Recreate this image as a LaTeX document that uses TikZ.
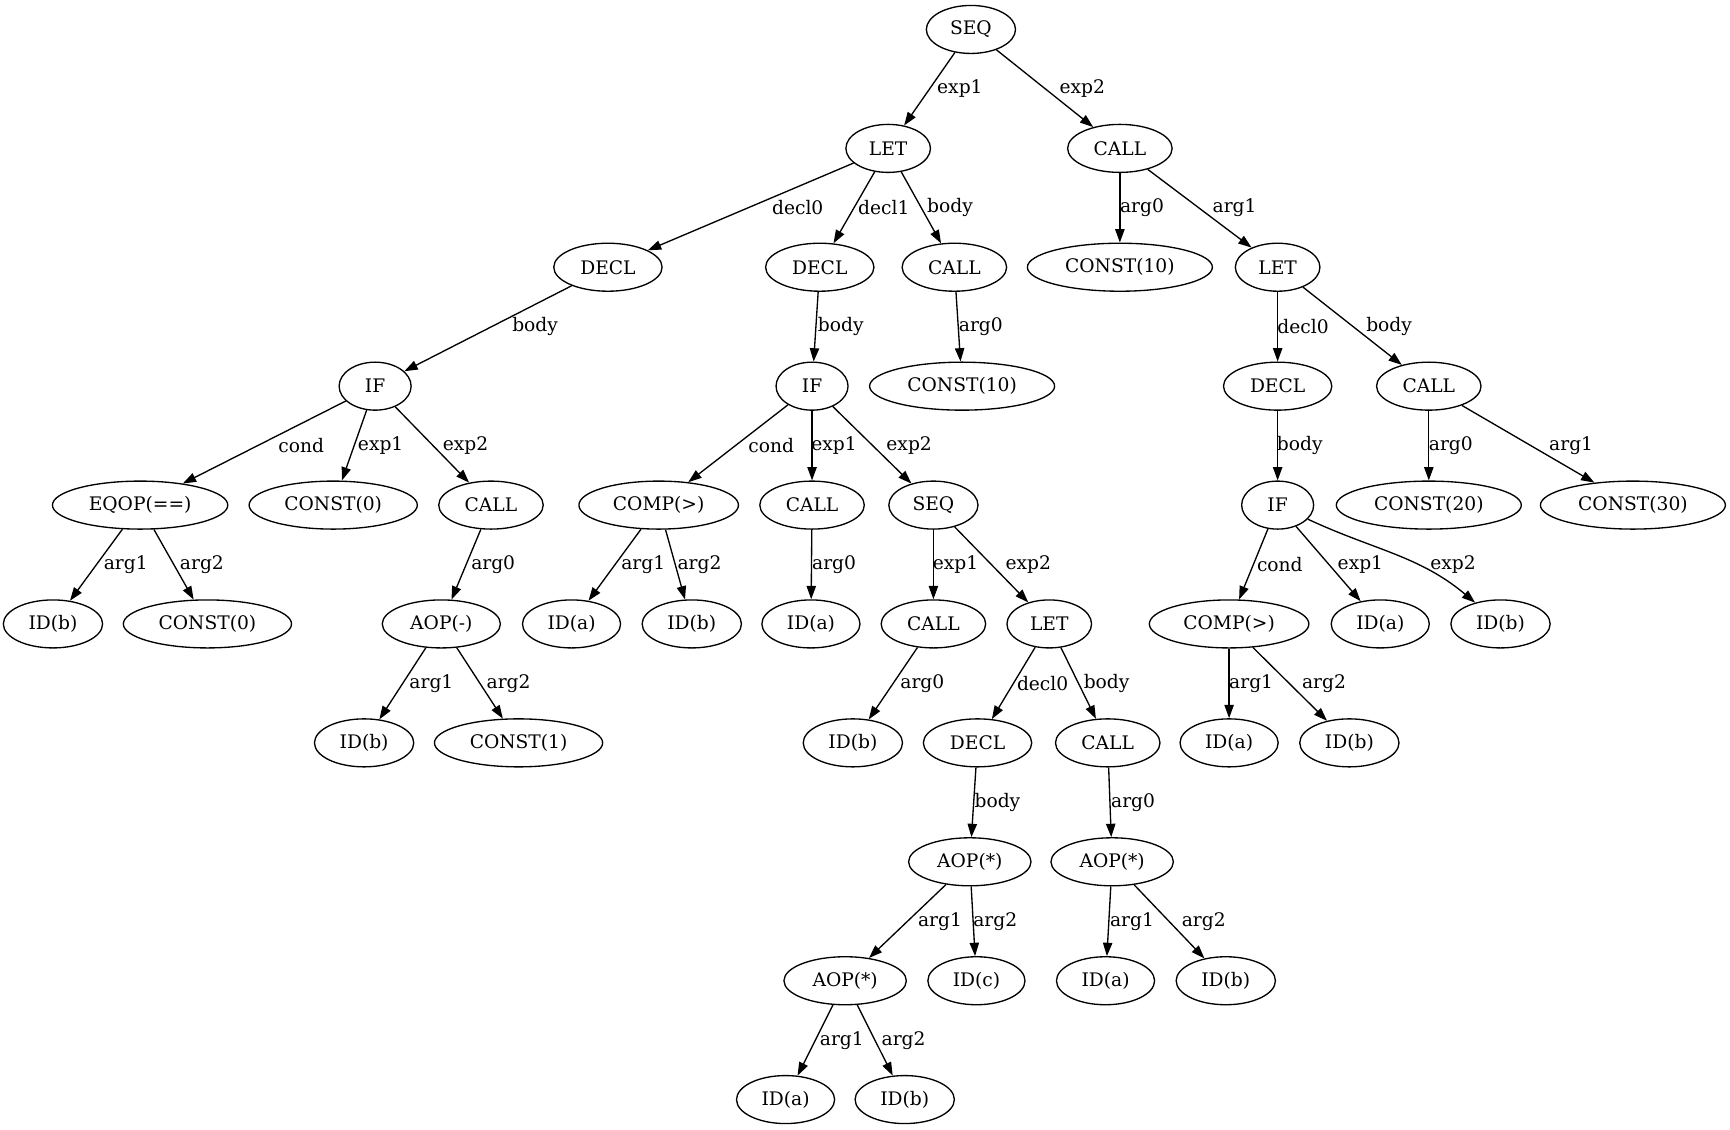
\documentclass[tikz,border=0pt]{standalone}
\usepackage{fontspec}
\setmainfont{DejaVu Serif}
\usetikzlibrary{shapes.geometric,arrows.meta}

\begin{document}
\begin{tikzpicture}[x=0.8275pt, y=-0.8275pt,
        mnode/.style = {draw, ellipse, line width = 1pt, minimum width = 54pt, minimum height = 36pt, inner xsep = 8pt, inner ysep = 3pt, font = \fontsize{14}{16}\selectfont},
        marrow/.style = {arrows = {-Triangle[length=10pt, width=7pt]}, line width = 1pt},
        mlabel/.style = {inner sep = 1pt, font = \fontsize{14}{16}\selectfont}
        ]
        \useasboundingbox (0,0) rectangle (1568,1024);

        \node[mnode] (seq) at (880,26.7) {SEQ};

        \node[mnode] (let) at (805,134.5) {LET};
        \node[mnode] (call) at (1015,134.5) {CALL};

        \node[mnode] (declA) at (551,242.2) {DECL};
        \node[mnode] (declB) at (743,242.2) {DECL};
        \node[mnode] (callA) at (865,242.2) {CALL};
        \node[mnode] (constA) at (1015,242.2) {CONST(10)};
        \node[mnode] (letB) at (1158,242.2) {LET};

        \node[mnode] (ifA) at (340,350) {IF};
        \node[mnode] (ifB) at (736,350) {IF};
        \node[mnode] (constB) at (872,350) {CONST(10)};
        \node[mnode] (declC) at (1158,350) {DECL};
        \node[mnode] (callB) at (1295,350) {CALL};

        \node[mnode] (eqop) at (127,457.8) {EQOP(==)};
        \node[mnode] (constC) at (302,457.8) {CONST(0)};
        \node[mnode] (callC) at (445,457.8) {CALL};
        \node[mnode] (compA) at (597,457.8) {COMP(>)};
        \node[mnode] (callD) at (736,457.8) {CALL};
        \node[mnode] (seqB) at (846,457.8) {SEQ};
        \node[mnode] (ifC) at (1158,457.8) {IF};
        \node[mnode] (constD) at (1295,457.8) {CONST(20)};
        \node[mnode] (constE) at (1480,457.8) {CONST(30)};

        \node[mnode] (idA) at (48,565.5) {ID(b)};
        \node[mnode] (constF) at (188,565.5) {CONST(0)};
        \node[mnode] (aopA) at (400,565.5) {AOP(-)};
        \node[mnode] (idB) at (518,565.5) {ID(a)};
        \node[mnode] (idC) at (627,565.5) {ID(b)};
        \node[mnode] (idD) at (735,565.5) {ID(a)};
        \node[mnode] (callE) at (846,565.5) {CALL};
        \node[mnode] (letC) at (951,565.5) {LET};
        \node[mnode] (compB) at (1114,565.5) {COMP(>)};
        \node[mnode] (idE) at (1251,565.5) {ID(a)};
        \node[mnode] (idF) at (1360,565.5) {ID(b)};

        \node[mnode] (idG) at (330,673.3) {ID(b)};
        \node[mnode] (constG) at (470,673.3) {CONST(1)};
        \node[mnode] (idH) at (773,673.3) {ID(b)};
        \node[mnode] (declD) at (886,673.3) {DECL};
        \node[mnode] (callF) at (1004,673.3) {CALL};
        \node[mnode] (idI) at (1114,673.3) {ID(a)};
        \node[mnode] (idJ) at (1223,673.3) {ID(b)};

        \node[mnode] (aopB) at (879,781.1) {AOP(*)};
        \node[mnode] (aopC) at (1008,781.1) {AOP(*)};

        \node[mnode] (aopD) at (766,888.9) {AOP(*)};
        \node[mnode] (idK) at (885,888.9) {ID(c)};
        \node[mnode] (idL) at (1002,888.9) {ID(a)};
        \node[mnode] (idM) at (1111,888.9) {ID(b)};

        \node[mnode] (idN) at (712,996.6) {ID(a)};
        \node[mnode] (idO) at (820,996.6) {ID(b)};

        \draw[marrow] (seq) -- (let) node[mlabel] at (870,80.6) {exp1};
        \draw[marrow] (seq) -- (call) node[mlabel] at (981,80.6) {exp2};

        \draw[marrow] (let) -- (declA) node[mlabel] at (723,188.4) {decl0};
        \draw[marrow] (let) -- (declB) node[mlabel] at (801,188.4) {decl1};
        \draw[marrow] (let) -- (callA) node[mlabel] at (861,188.4) {body};
        \draw[marrow] (call) -- (constA) node[mlabel] at (1035,188.4) {arg0};
        \draw[marrow] (call) -- (letB) node[mlabel] at (1119,188.4) {arg1};

        \draw[marrow] (declA) -- (ifA) node[mlabel] at (485,296.1) {body};
        \draw[marrow] (declB) -- (ifB) node[mlabel] at (762,296.1) {body};
        \draw[marrow] (callA) -- (constB) node[mlabel] at (889,296.1) {arg0};
        \draw[marrow] (letB) -- (declC) node[mlabel] at (1181,296.1) {decl0};
        \draw[marrow] (letB) -- (callB) node[mlabel] at (1259,296.1) {body};

        \draw[marrow] (ifA) -- (eqop) node[mlabel] at (273,403.9) {cond};
        \draw[marrow] (ifA) -- (constC) node[mlabel] at (345,403.9) {exp1};
        \draw[marrow] (ifA) -- (callC) node[mlabel] at (422,403.9) {exp2};
        \draw[marrow] (ifB) -- (compA) node[mlabel] at (699,403.9) {cond};
        \draw[marrow] (ifB) -- (callD) node[mlabel] at (756,403.9) {exp1};
        \draw[marrow] (ifB) -- (seqB) node[mlabel] at (824,403.9) {exp2};
        \draw[marrow] (declC) -- (ifC) node[mlabel] at (1178,403.9) {body};
        \draw[marrow] (callB) -- (constD) node[mlabel] at (1315,403.9) {arg0};
        \draw[marrow] (callB) -- (constE) node[mlabel] at (1424,403.9) {arg1};

        \draw[marrow] (eqop) -- (idA) node[mlabel] at (114,511.7) {arg1};
        \draw[marrow] (eqop) -- (constF) node[mlabel] at (183,511.7) {arg2};
        \draw[marrow] (callC) -- (aopA) node[mlabel] at (447,511.7) {arg0};
        \draw[marrow] (compA) -- (idB) node[mlabel] at (583,511.7) {arg1};
        \draw[marrow] (compA) -- (idC) node[mlabel] at (634,511.7) {arg2};
        \draw[marrow] (callD) -- (idD) node[mlabel] at (756,511.7) {arg0};
        \draw[marrow] (seqB) -- (callE) node[mlabel] at (866,511.7) {exp1};
        \draw[marrow] (seqB) -- (letC) node[mlabel] at (932,511.7) {exp2};
        \draw[marrow] (ifC) -- (compB) node[mlabel] at (1160,511.7) {cond};
        \draw[marrow] (ifC) -- (idE) node[mlabel] at (1233,511.7) {exp1};
        \draw[marrow] (ifC) to[out=-25, in=140] (idF) node[mlabel] at (1317,511.7) {exp2};

        \draw[marrow] (aopA) -- (idG) node[mlabel] at (391,619.4) {arg1};
        \draw[marrow] (aopA) -- (constG) node[mlabel] at (461,619.4) {arg2};
        \draw[marrow] (callE) -- (idH) node[mlabel] at (836,619.4) {arg0};
        \draw[marrow] (letC) -- (declD) node[mlabel] at (945,619.4) {decl0};
        \draw[marrow] (letC) -- (callF) node[mlabel] at (1003,619.4) {body};
        \draw[marrow] (compB) -- (idI) node[mlabel] at (1134,619.4) {arg1};
        \draw[marrow] (compB) -- (idJ) node[mlabel] at (1200,619.4) {arg2};

        \draw[marrow] (declD) -- (aopB) node[mlabel] at (904,727.2) {body};
        \draw[marrow] (callF) -- (aopC) node[mlabel] at (1027,727.2) {arg0};

        \draw[marrow] (aopB) -- (aopD) node[mlabel] at (852,835) {arg1};
        \draw[marrow] (aopB) -- (idK) node[mlabel] at (902,835) {arg2};
        \draw[marrow] (aopC) -- (idL) node[mlabel] at (1026,835) {arg1};
        \draw[marrow] (aopC) -- (idM) node[mlabel] at (1091,835) {arg2};

        \draw[marrow] (aopD) -- (idN) node[mlabel] at (763,942.8) {arg1};
        \draw[marrow] (aopD) -- (idO) node[mlabel] at (819,942.8) {arg2};

    \end{tikzpicture}
\end{document}
